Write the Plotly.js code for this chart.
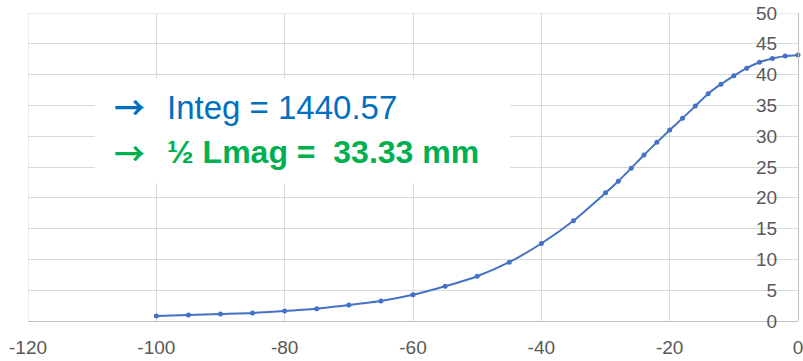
<!DOCTYPE html>
<html>
<head>
<meta charset="utf-8">
<script src="https://cdn.plot.ly/plotly-3.0.1.min.js"></script>
<style>html,body{margin:0;padding:0;background:#fff;}#chart{width:803px;height:361px;}</style>
</head>
<body>
<div id="chart"></div>
<script>
const xPos = [-100, -95, -90, -85, -80, -75, -70, -65, -60, -55, -50, -45, -40, -35, -30, -28, -26, -24, -22, -20, -18, -16, -14, -12, -10, -8, -6, -4, -2, 0];
const field = [0.81, 0.98, 1.14, 1.30, 1.63, 2.00, 2.60, 3.25, 4.25, 5.64, 7.27, 9.55, 12.58, 16.27, 20.8, 22.7, 24.8, 26.95, 29.0, 31.0, 32.9, 34.9, 36.9, 38.45, 39.8, 41.05, 42.0, 42.6, 43.0, 43.2];
const xTicks = [-120, -100, -80, -60, -40, -20, 0];
const yTicks = [0, 5, 10, 15, 20, 25, 30, 35, 40, 45, 50];
const integText = 'Integ = 1440.57';
const lmagText = '½ Lmag =&nbsp;&nbsp;33.33 mm';

const trace = {
  x: xPos, y: field, type: 'scatter', mode: 'lines+markers',
  line: {color: '#4472C4', width: 2, shape: 'spline', smoothing: 0.6},
  marker: {color: '#4472C4', size: 5},
  cliponaxis: false, hoverinfo: 'skip', showlegend: false
};

const tickFont = {family: 'Liberation Sans, Arial, sans-serif', size: 19, color: '#595959'};

const layout = {
  width: 803, height: 361,
  margin: {l: 28, r: 5, t: 13, b: 40, pad: 0},
  paper_bgcolor: '#ffffff', plot_bgcolor: '#ffffff',
  showlegend: false,
  xaxis: {
    range: [-120, 0], tickvals: xTicks, ticktext: xTicks.map(String),
    showgrid: true, gridcolor: '#d9d9d9', gridwidth: 1,
    zeroline: false, showline: true, linecolor: '#bfbfbf', linewidth: 1.3,
    ticks: 'outside', ticklen: 9, tickcolor: 'rgba(0,0,0,0)',
    ticklabeloverflow: 'allow',
    tickfont: tickFont, fixedrange: true
  },
  yaxis: {
    range: [0, 50], tickvals: yTicks, ticktext: yTicks.map(String),
    side: 'left', anchor: 'free', position: 1,
    showgrid: true, gridcolor: '#d9d9d9', gridwidth: 1,
    zeroline: false, showline: true, linecolor: '#bfbfbf', linewidth: 1.3,
    ticks: 'outside', ticklen: 17, tickcolor: 'rgba(0,0,0,0)',
    ticklabeloverflow: 'allow',
    tickfont: tickFont, fixedrange: true
  },
  shapes: [
    {type: 'line', xref: 'x', yref: 'y', x0: -120, x1: -120, y0: 0, y1: 50,
     line: {color: '#d9d9d9', width: 1}, layer: 'below'},
    {type: 'line', xref: 'x', yref: 'y', x0: -120, x1: 0, y0: 50, y1: 50,
     line: {color: '#d9d9d9', width: 1}, layer: 'below'},
    {type: 'rect', xref: 'x', yref: 'y', x0: -109.56, x1: -44.89, y0: 22.35, y1: 39.4,
     fillcolor: '#ffffff', line: {width: 0}, layer: 'between'}
  ],
  annotations: [
    {xref: 'x', yref: 'y', x: -104.26, y: 35.0, text: '<b>→</b>', showarrow: false,
     xanchor: 'center', yanchor: 'middle', font: {family: 'Noto Sans CJK JP', size: 31, color: '#0070C0'}},
    {xref: 'x', yref: 'y', x: -98.65, y: 34.69, text: integText, showarrow: false,
     xanchor: 'left', yanchor: 'middle', font: {family: 'Liberation Sans, Arial, sans-serif', size: 33, color: '#0070C0'}},
    {xref: 'x', yref: 'y', x: -104.26, y: 27.5, text: '<b>→</b>', showarrow: false,
     xanchor: 'center', yanchor: 'middle', font: {family: 'Noto Sans CJK JP', size: 31, color: '#00B050'}},
    {xref: 'x', yref: 'y', x: -98.65, y: 27.39, text: '<b>' + lmagText + '</b>', showarrow: false,
     xanchor: 'left', yanchor: 'middle', font: {family: 'Liberation Sans, Arial, sans-serif', size: 32, color: '#00B050'}}
  ]
};

Plotly.newPlot('chart', [trace], layout, {displayModeBar: false, staticPlot: true});
</script>
</body>
</html>
